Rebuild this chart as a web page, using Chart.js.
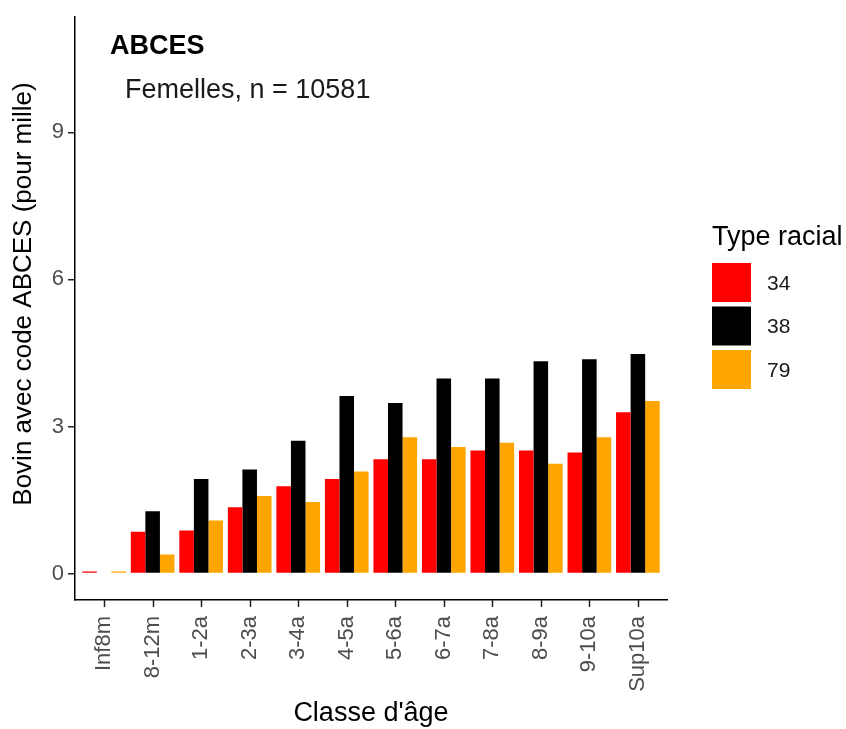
<!DOCTYPE html>
<html>
<head>
<meta charset="utf-8">
<script src="https://cdn.jsdelivr.net/npm/chart.js@4"></script>
<style>
  html, body { margin: 0; padding: 0; background: #fff; }
  canvas { display: block; }
</style>
</head>
<body>
<canvas id="chart" width="846" height="729"></canvas>
<script>
const categories = ['Inf8m', '8-12m', '1-2a', '2-3a', '3-4a', '4-5a', '5-6a', '6-7a', '7-8a', '8-9a', '9-10a', 'Sup10a'];
const seriesNames = ['34', '38', '79'];
const values34 = [0.04, 0.85, 0.88, 1.35, 1.78, 1.93, 2.33, 2.33, 2.51, 2.51, 2.47, 3.29];
const values38 = [null, 1.27, 1.93, 2.12, 2.71, 3.62, 3.48, 3.98, 3.98, 4.33, 4.37, 4.48];
const values79 = [0.04, 0.39, 1.08, 1.58, 1.46, 2.08, 2.78, 2.58, 2.67, 2.24, 2.78, 3.52];
const yTicks = [0, 3, 6, 9];
const colors = ['#FF0000', '#000000', '#FFA500'];

const FONT = "'Liberation Sans', Arial, sans-serif";

// title, subtitle, y title, x tick marks and legend drawn by hand, ggplot style
const extras = {
  id: 'extras',
  afterDraw(chart) {
    const ctx = chart.ctx;
    const xs = chart.scales.x;
    ctx.save();

    // x tick marks under the axis line
    ctx.strokeStyle = '#222';
    ctx.lineWidth = 1.5;
    ctx.beginPath();
    categories.forEach((_, i) => {
      const px = Math.round(xs.getPixelForValue(i)) + 0.5;
      ctx.moveTo(px, xs.top);
      ctx.lineTo(px, xs.top + 7);
    });
    ctx.stroke();

    ctx.textBaseline = 'alphabetic';
    ctx.textAlign = 'left';
    ctx.fillStyle = '#000';
    ctx.font = 'bold 27px ' + FONT;
    ctx.fillText('ABCES', 110, 54);
    ctx.font = '27px ' + FONT;
    ctx.fillStyle = '#1a1a1a';
    ctx.fillText('Femelles, n = 10581', 125, 98);

    // y axis title
    ctx.save();
    ctx.translate(24, 294);
    ctx.rotate(-Math.PI / 2);
    ctx.textAlign = 'center';
    ctx.textBaseline = 'middle';
    ctx.fillStyle = '#000';
    ctx.font = '26px ' + FONT;
    ctx.fillText('Bovin avec code ABCES (pour mille)', 0, 0);
    ctx.restore();

    // legend
    ctx.fillStyle = '#000';
    ctx.font = '27px ' + FONT;
    ctx.textBaseline = 'middle';
    ctx.fillText('Type racial', 712, 238);
    ctx.font = '21px ' + FONT;
    chart.data.datasets.forEach((ds, i) => {
      const y = 263 + i * 43.5;
      ctx.fillStyle = ds.backgroundColor;
      ctx.fillRect(712, y, 39, 39);
      ctx.fillStyle = '#1a1a1a';
      ctx.fillText(ds.label, 767, y + 21);
    });
    ctx.restore();
  }
};

new Chart(document.getElementById('chart').getContext('2d'), {
  type: 'bar',
  data: {
    labels: categories.map((_, i) => i),
    datasets: [
      { label: seriesNames[0], data: values34, backgroundColor: colors[0] },
      { label: seriesNames[1], data: values38, backgroundColor: colors[1] },
      { label: seriesNames[2], data: values79, backgroundColor: colors[2] }
    ]
  },
  options: {
    responsive: false,
    animation: false,
    layout: { padding: { top: 15, right: 179, left: 0, bottom: 0 } },
    datasets: {
      bar: { categoryPercentage: 0.9, barPercentage: 1.0, borderWidth: 0 }
    },
    plugins: {
      legend: { display: false },
      tooltip: { enabled: false }
    },
    scales: {
      x: {
        type: 'linear',
        offset: false,
        min: -0.6,
        max: categories.length - 0.4,
        afterBuildTicks: s => { s.ticks = categories.map((_, i) => ({ value: i })); },
        grid: { display: false },
        border: { display: true, color: '#000', width: 1.5 },
        ticks: {
          autoSkip: false, minRotation: 90, maxRotation: 90,
          color: '#4D4D4D', padding: 8,
          font: { family: FONT, size: 22 },
          callback: v => categories[v]
        },
        title: {
          display: true, text: "Classe d'âge", color: '#000',
          font: { family: FONT, size: 27, lineHeight: 1 },
          padding: { top: 0, bottom: 2 }
        },
        afterFit: s => { s.height = 129; }
      },
      y: {
        min: -0.54,
        max: 11.35,
        afterBuildTicks: s => { s.ticks = yTicks.map(v => ({ value: v })); },
        grid: { drawOnChartArea: false, drawTicks: true, tickLength: 7, color: '#222', lineWidth: 1.5 },
        border: { color: '#000', width: 1.5 },
        ticks: {
          color: '#4D4D4D', padding: 4,
          font: { family: FONT, size: 22 }
        },
        afterFit: s => { s.width = 75; }
      }
    }
  },
  plugins: [extras]
});
</script>
</body>
</html>
